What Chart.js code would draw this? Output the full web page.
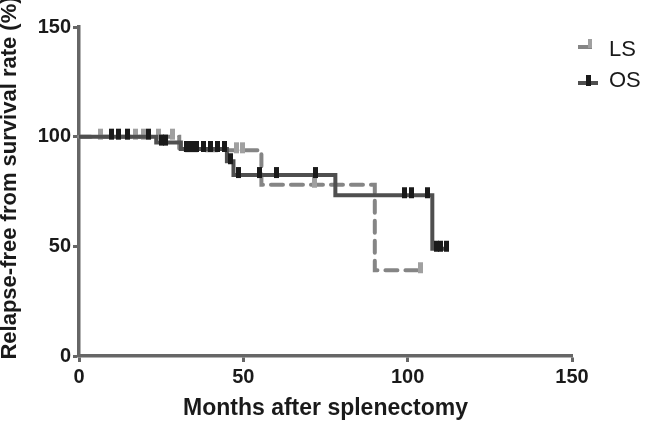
<!DOCTYPE html>
<html>
<head>
<meta charset="utf-8">
<script src="https://cdn.jsdelivr.net/npm/chart.js@4/dist/chart.umd.min.js"></script>
<style>
  html, body { margin: 0; padding: 0; background: #fff; }
  #wrap { width: 647px; height: 422px; position: relative; }
</style>
</head>
<body>
<div id="wrap"><canvas id="myChart"></canvas></div>
<script>
// Kaplan-Meier steps (months, % still relapse-free)
var osTimes = [0, 23.5, 31, 45, 47, 78, 107.5, 112];
var osSurv = [100, 97.3, 94.4, 88.8, 82.5, 73.3, 48.9, 48.9];
var osCensored = [10, 11.9, 14.9, 21, 25.2, 26.4, 32.8, 34.2, 35.8, 38, 40, 42.2, 44.2, 46.2,
                  48.5, 55, 60.2, 72, 99, 101.2, 106, 108.8, 110, 111.9];

var lsTimes = [0, 30.5, 55.5, 90, 104];
var lsSurv = [100, 93.8, 78.1, 39.1, 39.1];
var lsCensored = [6.5, 17.2, 19.5, 24.3, 28.3, 48, 49.8, 71.7, 104];

var xTicks = [0, 50, 100, 150];
var yTicks = [0, 50, 100, 150];
var seriesNames = ['LS', 'OS'];

function steps(times, surv) {
  return times.map(function(t, i) { return { x: t, y: surv[i] }; });
}
// level of the curve at time t (for placing censor marks)
function levelAt(times, surv, t) {
  var y = surv[0];
  for (var i = 0; i < times.length; i++) { if (times[i] <= t) y = surv[i]; }
  return y;
}
function marks(cens, times, surv) {
  return cens.map(function(t) { return { x: t, y: levelAt(times, surv, t) }; });
}
// censor tick: vertical bar sitting mostly above the line
function tickImage(color) {
  var c = document.createElement('canvas');
  c.width = 5; c.height = 20;
  var g = c.getContext('2d');
  g.fillStyle = color;
  g.fillRect(0, 2, 5, 11);
  return c;
}
var osTick = tickImage('#1a1a1a');
var lsTick = tickImage('#a0a0a0');

var titlePlugin = {
  id: 'extras',
  afterDraw: function(chart) {
    var ctx = chart.ctx;
    ctx.save();
    // y axis title
    ctx.fillStyle = '#1a1a1a';
    ctx.font = 'bold 22px "Liberation Sans", Arial, sans-serif';
    ctx.textAlign = 'center';
    ctx.textBaseline = 'middle';
    ctx.translate(10, 178);
    ctx.rotate(-Math.PI / 2);
    ctx.fillText('Relapse-free from survival rate (%)', 0, 0);
    ctx.restore();

    // legend
    ctx.save();
    ctx.strokeStyle = '#858585'; ctx.lineWidth = 4;
    ctx.beginPath(); ctx.moveTo(578, 47); ctx.lineTo(592, 47); ctx.stroke();
    ctx.fillStyle = '#a0a0a0'; ctx.fillRect(588, 39, 4, 9);
    ctx.strokeStyle = '#4f4f4f'; ctx.lineWidth = 4;
    ctx.beginPath(); ctx.moveTo(578, 83); ctx.lineTo(598, 83); ctx.stroke();
    ctx.fillStyle = '#1a1a1a'; ctx.fillRect(586, 75, 5, 11);
    ctx.fillStyle = '#1a1a1a';
    ctx.font = '22px "Liberation Sans", Arial, sans-serif';
    ctx.textAlign = 'left';
    ctx.textBaseline = 'middle';
    ctx.fillText(seriesNames[0], 609, 50);
    ctx.fillText(seriesNames[1], 609, 81);
    ctx.restore();
  }
};

document.addEventListener("DOMContentLoaded", function() {
  var ctx = document.getElementById('myChart').getContext('2d');
  var data = {
    datasets: [
      { label: 'OS censored', type: 'scatter', data: marks(osCensored, osTimes, osSurv),
        pointStyle: osTick, pointRadius: 5, clip: false },
      { label: seriesNames[1], data: steps(osTimes, osSurv), stepped: true,
        borderColor: '#4f4f4f', borderWidth: 4, pointRadius: 0, fill: false, clip: false },
      { label: 'LS censored', type: 'scatter', data: marks(lsCensored, lsTimes, lsSurv),
        pointStyle: lsTick, pointRadius: 5, clip: false },
      { label: seriesNames[0], data: steps(lsTimes, lsSurv), stepped: true,
        borderColor: '#858585', borderWidth: 4, borderDash: [12, 8], borderCapStyle: 'round',
        pointRadius: 0, fill: false, clip: false }
    ]
  };

  var tickFont = { family: '"Liberation Sans", Arial, sans-serif', size: 20, weight: 'bold' };
  var config = {
    type: 'line',
    data: data,
    plugins: [titlePlugin],
    options: {
      responsive: true,
      maintainAspectRatio: false,
      animation: false,
      layout: { padding: { top: 27, right: 75, left: 0, bottom: 0 } },
      plugins: { legend: { display: false }, tooltip: { enabled: false } },
      scales: {
        x: {
          type: 'linear', min: 0, max: 150,
          afterBuildTicks: function(s) { s.ticks = xTicks.map(function(v) { return { value: v }; }); },
          afterFit: function(s) { s.height = 66; },
          ticks: { color: '#1a1a1a', font: tickFont, padding: 3, maxRotation: 0 },
          grid: { drawOnChartArea: false, drawTicks: true, tickLength: 6, tickColor: '#666', tickWidth: 3 },
          border: { color: '#666', width: 3.5 },
          title: { display: true, text: 'Months after splenectomy', color: '#1a1a1a',
                   font: { family: '"Liberation Sans", Arial, sans-serif', size: 23, weight: 'bold' },
                   padding: { top: 0, bottom: 0 } }
        },
        y: {
          type: 'linear', min: 0, max: 150,
          afterBuildTicks: function(s) { s.ticks = yTicks.map(function(v) { return { value: v }; }); },
          afterFit: function(s) { s.width = 79; },
          ticks: { color: '#1a1a1a', font: tickFont, padding: 2 },
          grid: { drawOnChartArea: false, drawTicks: true, tickLength: 6, tickColor: '#666', tickWidth: 3 },
          border: { color: '#666', width: 3.5 }
        }
      }
    }
  };
  var myChart = new Chart(ctx, config);
});
</script>
</body>
</html>
